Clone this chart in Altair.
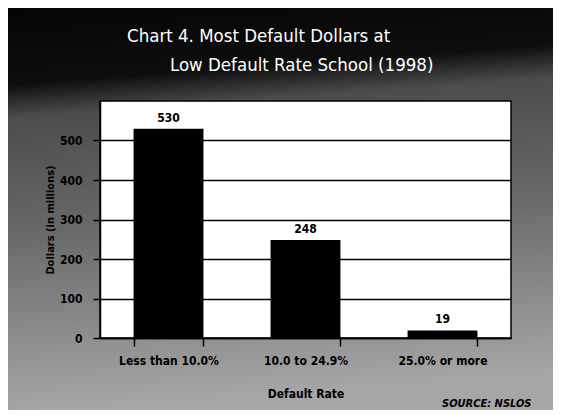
import altair as alt
import pandas as pd

categories = ["Less than 10.0%", "10.0 to 24.9%", "25.0% or more"]
values = [530, 248, 19]
y_ticks = [0, 100, 200, 300, 400, 500]
title_line1 = "Chart 4. Most Default Dollars at"
title_line2 = "Low Default Rate School (1998)"
source_note = "SOURCE: NSLOS"

FONT = "'DejaVu Sans Condensed', 'Liberation Sans Narrow', sans-serif"
W, H = 411, 237

df = pd.DataFrame({"rate": categories, "dollars": values})
one = pd.DataFrame({"k": [0]})

gradient = alt.LinearGradient(
    gradient="linear",
    stops=[
        alt.GradientStop(color="#050505", offset=0),
        alt.GradientStop(color="#0e0e0e", offset=0.19),
        alt.GradientStop(color="#4c4c4c", offset=0.27),
        alt.GradientStop(color="#686868", offset=0.55),
        alt.GradientStop(color="#a6a6a6", offset=1),
    ],
    x1=0, x2=0.1, y1=0, y2=1,
)

bg = alt.Chart(one).mark_rect(fill=gradient, strokeWidth=0).encode(
    x=alt.value(-92), x2=alt.value(453), y=alt.value(-93), y2=alt.value(309)
)
plotbg = alt.Chart(one).mark_rect(fill="white", stroke="black", strokeWidth=1.5).encode(
    x=alt.value(0), x2=alt.value(W), y=alt.value(0), y2=alt.value(H)
)

xenc = alt.X(
    "rate:N", sort=categories,
    scale=alt.Scale(paddingInner=0.49, paddingOuter=0.245),
    axis=alt.Axis(
        title="Default Rate", labelAngle=0, tickBand="extent", tickSize=8,
        tickColor="black", tickWidth=1.5, domainColor="black", domainWidth=1.5,
        labelPadding=9, labelFont=FONT, labelFontWeight="bold", labelFontSize=12,
        labelColor="black", titleFont=FONT, titleFontWeight="bold", titleFontSize=12,
        titleColor="black", titleY=55, titleBaseline="middle", zindex=1,
    ),
)
yenc = alt.Y(
    "dollars:Q", scale=alt.Scale(domain=[0, 600], nice=False),
    axis=alt.Axis(
        title="Dollars (in millions)", values=y_ticks, tickSize=7, tickColor="black",
        tickWidth=1.5, domainColor="black", domainWidth=1.5, grid=True,
        gridColor="black", gridWidth=1.5, gridOpacity=1, labelPadding=11,
        labelFont=FONT, labelFontWeight="bold", labelFontSize=12, labelColor="black",
        titleFont=FONT, titleFontWeight="bold", titleFontSize=11, titleColor="black",
        titleX=-50, titleY=H / 2, titleAngle=-90, titleAlign="center",
        titleBaseline="middle", zindex=1,
    ),
)

bars = alt.Chart(df).mark_bar(color="black").encode(x=xenc, y=yenc)
labels = alt.Chart(df).mark_text(
    baseline="bottom", dy=-4, font=FONT, fontWeight="bold", fontSize=12, color="black"
).encode(x=alt.X("rate:N", sort=categories), y="dollars:Q", text="dollars:Q")

title1 = alt.Chart(one).mark_text(
    align="left", baseline="alphabetic", font=FONT, fontSize=18.5, color="white"
).encode(x=alt.value(27), y=alt.value(-59), text=alt.value(title_line1))
title2 = alt.Chart(one).mark_text(
    align="left", baseline="alphabetic", font=FONT, fontSize=18.5, color="white"
).encode(x=alt.value(70), y=alt.value(-30), text=alt.value(title_line2))

source = alt.Chart(one).mark_text(
    align="left", baseline="middle", font=FONT, fontWeight="bold",
    fontStyle="italic", fontSize=11, color="black",
).encode(x=alt.value(342), y=alt.value(303), text=alt.value(source_note))

chart = alt.layer(bg, plotbg, bars, labels, title1, title2, source).properties(
    width=W, height=H,
    autosize=alt.AutoSizeParams(type="none"),
    padding={"left": 92, "top": 93, "right": 42, "bottom": 72},
    background="#6a6a6a",
).configure_view(stroke=None)

chart.save("out.html", embed_options={"renderer": "svg", "actions": False})
